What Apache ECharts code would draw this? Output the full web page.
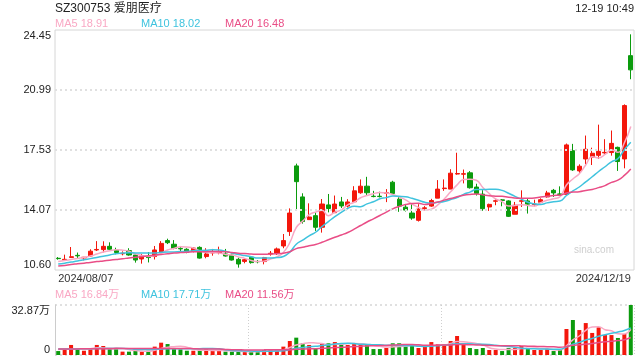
<!DOCTYPE html>
<html>
<head>
<meta charset="utf-8">
<script src="https://cdn.jsdelivr.net/npm/echarts@6/dist/echarts.min.js"></script>
<style>
html,body{margin:0;padding:0;background:#fff;}
#c{width:640px;height:360px;}
</style>
</head>
<body>
<div id="c"></div>
<script>
const stockTitle = 'SZ300753 爱朋医疗';
const timeText = '12-19 10:49';
const dates = [
 '2024/08/07','2024/08/08','2024/08/09','2024/08/12','2024/08/13','2024/08/14','2024/08/15','2024/08/16','2024/08/19','2024/08/20',
 '2024/08/21','2024/08/22','2024/08/23','2024/08/26','2024/08/27','2024/08/28','2024/08/29','2024/08/30','2024/09/02','2024/09/03',
 '2024/09/04','2024/09/05','2024/09/06','2024/09/09','2024/09/10','2024/09/11','2024/09/12','2024/09/13','2024/09/18','2024/09/19',
 '2024/09/20','2024/09/23','2024/09/24','2024/09/25','2024/09/26','2024/09/27','2024/09/30','2024/10/08','2024/10/09','2024/10/10',
 '2024/10/11','2024/10/14','2024/10/15','2024/10/16','2024/10/17','2024/10/18','2024/10/21','2024/10/22','2024/10/23','2024/10/24',
 '2024/10/25','2024/10/28','2024/10/29','2024/10/30','2024/10/31','2024/11/01','2024/11/04','2024/11/05','2024/11/06','2024/11/07',
 '2024/11/08','2024/11/11','2024/11/12','2024/11/13','2024/11/14','2024/11/15','2024/11/18','2024/11/19','2024/11/20','2024/11/21',
 '2024/11/22','2024/11/25','2024/11/26','2024/11/27','2024/11/28','2024/11/29','2024/12/02','2024/12/03','2024/12/04','2024/12/05',
 '2024/12/06','2024/12/09','2024/12/10','2024/12/11','2024/12/12','2024/12/13','2024/12/16','2024/12/17','2024/12/18','2024/12/19'
];
const opens = [
 11.28,11.18,11.33,11.45,11.30,11.41,11.76,11.78,11.97,11.76,
 11.54,11.72,11.47,11.24,11.35,11.38,11.64,12.30,12.09,11.85,
 11.80,11.70,11.91,11.38,11.59,11.61,11.53,11.47,11.22,11.10,
 11.34,11.10,11.09,11.53,11.55,11.99,12.82,16.61,14.82,13.51,
 13.74,13.07,14.36,13.91,14.53,14.29,14.54,15.06,15.44,14.86,
 14.86,15.03,15.67,14.69,14.23,13.89,13.47,14.15,14.29,14.75,
 15.30,15.27,16.14,16.13,16.21,15.39,14.98,14.24,14.57,14.65,
 14.59,13.82,14.57,14.59,14.38,14.51,14.82,15.20,14.99,14.97,
 17.49,16.32,17.01,17.11,17.22,17.36,17.38,17.68,17.01,22.97
];
const closes = [
 11.26,11.22,11.37,11.42,11.34,11.69,11.79,11.97,11.80,11.61,
 11.57,11.47,11.18,11.41,11.32,11.76,12.14,12.18,11.85,11.82,
 11.66,11.87,11.29,11.53,11.62,11.64,11.41,11.18,10.95,11.20,
 11.03,11.08,11.32,11.57,11.82,12.30,13.89,15.70,13.40,13.66,
 13.07,14.41,14.15,14.41,14.30,14.53,15.17,15.44,15.06,14.84,
 14.84,15.06,15.02,14.29,14.06,13.60,14.12,14.19,14.61,15.27,
 15.33,16.19,16.17,16.16,15.35,15.02,14.14,14.39,14.60,14.62,
 13.70,14.34,14.60,14.40,14.41,14.66,15.05,15.05,14.97,17.82,
 16.38,16.59,17.57,17.34,17.45,17.39,17.91,16.86,20.09,22.15
];
const lows = [
 11.20,11.15,11.30,11.29,11.16,11.36,11.70,11.62,11.78,11.51,
 11.45,11.43,11.03,10.97,11.04,11.21,11.50,12.10,11.80,11.70,
 11.57,11.62,11.26,11.28,11.43,11.51,11.38,11.15,10.74,10.99,
 10.97,10.99,10.93,11.43,11.47,11.86,12.57,14.07,13.28,13.51,
 12.86,12.76,13.93,13.91,14.18,14.21,14.48,15.00,14.93,14.80,
 14.79,14.52,14.98,13.96,13.98,13.50,13.40,14.02,14.25,14.75,
 15.17,15.27,16.10,15.60,15.30,14.90,14.02,14.01,14.34,14.28,
 13.66,13.82,14.24,13.86,14.28,14.49,14.78,14.82,14.93,14.95,
 16.32,16.16,16.70,16.66,17.01,17.30,17.20,16.32,16.47,21.61
];
const highs = [
 11.35,11.49,11.93,11.61,11.36,11.80,12.27,12.26,12.20,11.89,
 11.68,11.86,11.53,11.53,11.64,11.99,12.27,12.41,12.33,11.99,
 11.86,11.93,11.97,11.86,11.82,11.95,11.82,11.55,11.32,11.28,
 11.41,11.18,11.36,11.70,11.90,12.68,14.16,16.74,15.03,14.45,
 13.93,14.70,14.99,14.90,14.82,14.69,15.44,15.83,15.98,15.17,
 15.12,15.27,15.75,14.87,14.35,14.44,14.40,14.29,14.71,15.79,
 15.83,16.42,17.37,16.40,16.31,15.58,15.21,14.43,14.72,14.70,
 14.63,14.53,15.20,14.70,14.66,14.74,15.17,15.28,15.43,17.90,
 17.88,16.70,18.36,17.66,18.99,18.15,18.65,17.72,20.16,24.20
];
// volume in 万 (10k)
const volumes = [
 2.6,3.3,6.6,4.4,2.8,3.7,6.6,5.9,3.7,3.7,
 2.2,2.2,2.8,2.2,2.8,5.5,8.1,7.2,3.9,3.7,
 2.8,2.8,2.8,3.7,2.8,2.8,2.2,2.2,2.2,2.0,
 2.2,2.2,3.3,3.3,3.3,5.5,9.2,11.4,7.7,6.6,
 4.4,7.7,7.7,8.5,7.0,6.6,7.7,7.0,6.6,3.9,
 3.9,4.6,7.7,7.7,5.5,6.4,4.6,5.5,8.5,7.2,
 7.2,9.2,12.5,7.7,4.6,3.9,4.6,3.3,3.3,2.6,
 4.6,4.6,5.9,4.2,3.3,3.3,3.9,2.6,3.3,17.1,
 23.0,16.4,21.0,14.5,18.2,13.1,13.1,11.2,13.8,32.87
];
// moving-average values before enough history exists in this window
const ma5Lead = [11.10,11.15,11.21,11.27];
const ma10Lead = [10.95,11.00,11.06,11.12,11.19,11.26,11.33,11.40,11.47];
const ma20Lead = [10.83,10.87,10.92,10.96,11.00,11.04,11.09,11.13,11.17,11.21,11.25,11.30,11.34,11.38,11.42,11.46,11.50,11.54,11.58];
const volMa5Lead = [3.6,3.7,3.8,3.9];
const volMa10Lead = [3.9,3.9,4.0,4.0,4.1,4.1,4.2,4.2,4.3];
const volMa20Lead = [4.0,4.0,4.0,4.0,4.1,4.1,4.1,4.1,4.1,4.2,4.2,4.2,4.2,4.2,4.2,4.2,4.2,4.2,4.2];
const priceTicks = [10.604, 14.0655, 17.527, 20.9885, 24.45];
const volMax = 32.87;
const legendPrice = ['MA5 18.91','MA10 18.02','MA20 16.48'];
const legendVol = ['MA5 16.84万','MA10 17.71万','MA20 11.56万'];

const UP = '#f3170c', DOWN = '#0b9b0d';
const C5 = '#f9a8c4', C10 = '#3fc3de', C20 = '#e94d86';
const FONT = "'Liberation Sans', Arial, 'Noto Sans CJK SC', sans-serif";

function ma(arr, n, lead){
  return arr.map((v,i)=>{
    if(i < n-1) return lead[i];
    let s=0; for(let k=i-n+1;k<=i;k++) s+=arr[k];
    return +(s/n).toFixed(3);
  });
}
const N = dates.length;
const candle = dates.map((d,i)=>[opens[i],closes[i],lows[i],highs[i]]);
const volData = volumes.map((v,i)=>({value:v,itemStyle:{color: closes[i]>=opens[i]?UP:DOWN}}));

const chart = echarts.init(document.getElementById('c'), null, {renderer:'canvas'});
const dotted = {color:'#e0e0e0', width:2, type:[2,3]};
function lineSeries(name, data, color, xi){
  return {name, type:'line', data, xAxisIndex:xi, yAxisIndex:xi, smooth:true, symbol:'none',
    lineStyle:{color, width:1.5}, itemStyle:{color}, silent:true, z:3};
}
const option = {
  animation:false,
  textStyle:{fontFamily:FONT},
  grid:[
    {left:55, right:6, top:30, height:240, show:true, borderColor:'#d6d6d6', borderWidth:1},
    {left:55, right:6, top:305, height:50}
  ],
  xAxis:[
    {type:'category', gridIndex:0, data:dates, boundaryGap:true,
      axisLine:{show:false}, axisTick:{show:false}, splitLine:{show:false},
      axisLabel:{interval:(i)=>i===0||i===N-1, alignMinLabel:'left', alignMaxLabel:'right',
        fontSize:11, color:'#333', margin:3, fontFamily:FONT}},
    {type:'category', gridIndex:1, data:dates, boundaryGap:true,
      axisLine:{show:false}, axisTick:{show:false}, axisLabel:{show:false},
      splitLine:{show:true, interval:(i)=>i===30||i===60, lineStyle:{color:'#cfcfcf', width:1, type:[1,2]}}}
  ],
  yAxis:[
    {type:'value', gridIndex:0, min:priceTicks[0], max:priceTicks[priceTicks.length-1], scale:true,
      axisLine:{show:false}, axisTick:{show:false}, splitLine:{show:false},
      axisLabel:{customValues:priceTicks, formatter:(v)=>v.toFixed(2), fontSize:11, color:'#222', margin:4,
        verticalAlignMinLabel:'bottom', verticalAlignMaxLabel:'top', fontFamily:FONT}},
    {type:'value', gridIndex:1, min:0, max:volMax, interval:volMax,
      axisLine:{show:true, lineStyle:{color:'#cccccc'}}, axisTick:{show:false},
      splitLine:{show:true, lineStyle:dotted},
      axisLabel:{formatter:(v)=>v===0?'0':v.toFixed(2)+'万', fontSize:11, color:'#222', margin:5,
        verticalAlignMinLabel:'bottom', verticalAlignMaxLabel:'top', fontFamily:FONT}}
  ],
  series:[
    {type:'candlestick', name:'K', data:candle, xAxisIndex:0, yAxisIndex:0, barWidth:'72%',
      itemStyle:{color:UP, color0:DOWN, borderColor:UP, borderColor0:DOWN, borderWidth:1},
      markLine:{silent:true, symbol:'none', label:{show:false}, lineStyle:dotted, animation:false,
        data:priceTicks.slice(1,-1).map(v=>({yAxis:v}))}},
    lineSeries('MA5', ma(closes,5,ma5Lead), C5, 0),
    lineSeries('MA10', ma(closes,10,ma10Lead), C10, 0),
    lineSeries('MA20', ma(closes,20,ma20Lead), C20, 0),
    {type:'bar', name:'VOL', data:volData, xAxisIndex:1, yAxisIndex:1, barWidth:'62%'},
    lineSeries('VMA5', ma(volumes,5,volMa5Lead), C5, 1),
    lineSeries('VMA10', ma(volumes,10,volMa10Lead), C10, 1),
    lineSeries('VMA20', ma(volumes,20,volMa20Lead), C20, 1)
  ],
  graphic:[
    {type:'text', x:55, y:9, style:{text:stockTitle, font:"12px "+FONT, fill:'#222', textVerticalAlign:'middle'}},
    {type:'text', x:634, y:9, style:{text:timeText, font:"11px "+FONT, fill:'#222', textAlign:'right', textVerticalAlign:'middle'}},
    {type:'text', x:55, y:24, style:{text:legendPrice[0], font:"11px "+FONT, fill:C5, textVerticalAlign:'middle'}},
    {type:'text', x:141, y:24, style:{text:legendPrice[1], font:"11px "+FONT, fill:C10, textVerticalAlign:'middle'}},
    {type:'text', x:225, y:24, style:{text:legendPrice[2], font:"11px "+FONT, fill:C20, textVerticalAlign:'middle'}},
    {type:'text', x:55, y:295, style:{text:legendVol[0], font:"11px "+FONT, fill:C5, textVerticalAlign:'middle'}},
    {type:'text', x:141, y:295, style:{text:legendVol[1], font:"11px "+FONT, fill:C10, textVerticalAlign:'middle'}},
    {type:'text', x:225, y:295, style:{text:legendVol[2], font:"11px "+FONT, fill:C20, textVerticalAlign:'middle'}},
    {type:'text', x:614, y:250, style:{text:'sina.com', font:"10px "+FONT, fill:'#cfcfcf', textAlign:'right', textVerticalAlign:'middle'}}
  ]
};
chart.setOption(option);
</script>
</body>
</html>
